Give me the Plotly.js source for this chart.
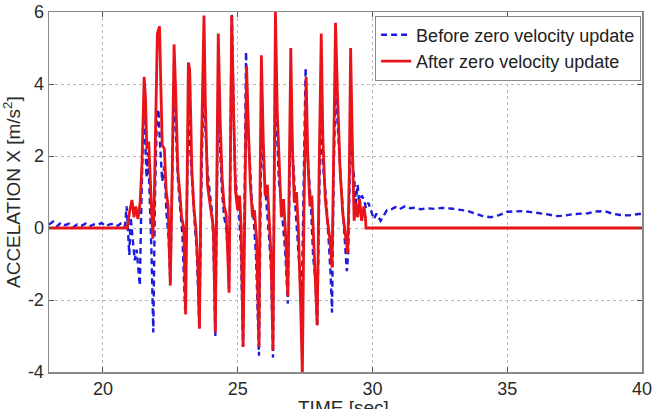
<!DOCTYPE html>
<html>
<head>
<meta charset="utf-8">
<script src="https://cdn.plot.ly/plotly-3.0.1.min.js"></script>
<style>
  html, body { margin: 0; padding: 0; background: #fff; }
  #chart { width: 657px; height: 409px; }
</style>
</head>
<body>
<div id="chart"></div>
<script>
// Acceleration (x axis) before zero velocity update: time [s]
const beforeTime = [
  18.0, 18.15, 18.3, 18.45, 18.6, 18.75, 18.9, 19.05, 19.2, 19.35, 19.5, 19.65, 19.8, 19.95,
  20.1, 20.25, 20.4, 20.55, 20.7, 20.82, 20.88, 20.93, 20.98, 21.03, 21.1, 21.18, 21.25, 21.32,
  21.37, 21.42, 21.5, 21.56, 21.62, 21.68, 21.74, 21.8, 21.87, 21.93, 22.0, 22.06, 22.12, 22.2,
  22.28, 22.36, 22.44, 22.5, 22.57, 22.63, 22.7, 22.78, 22.86, 22.95, 23.05, 23.12, 23.17, 23.24,
  23.32, 23.4, 23.48, 23.58, 23.66, 23.74, 23.8, 23.88, 23.96, 24.04, 24.1, 24.17, 24.23, 24.28,
  24.34, 24.42, 24.5, 24.58, 24.64, 24.68, 24.73, 24.78, 24.84, 24.9, 24.98, 25.06, 25.12, 25.2,
  25.26, 25.31, 25.38, 25.45, 25.52, 25.6, 25.68, 25.79, 25.84, 25.89, 25.95, 26.02, 26.1, 26.17,
  26.24, 26.31, 26.36, 26.4, 26.46, 26.53, 26.6, 26.68, 26.76, 26.86, 26.92, 26.97, 27.02, 27.08,
  27.15, 27.22, 27.3, 27.37, 27.45, 27.52, 27.58, 27.65, 27.72, 27.8, 27.88, 27.95, 28.02, 28.08,
  28.15, 28.22, 28.3, 28.38, 28.45, 28.5, 28.56, 28.63, 28.68, 28.74, 28.82, 28.9, 28.98, 29.05,
  29.1, 29.15, 29.2, 29.26, 29.32, 29.38, 29.45, 29.52, 29.6, 29.68, 29.76, 29.85, 29.95, 30.05,
  30.15, 30.3, 30.42, 30.54, 30.7, 30.85, 31.0, 31.2, 31.4, 31.6, 31.8, 32.0, 32.3, 32.6,
  32.9, 33.2, 33.5, 33.8, 34.1, 34.4, 34.7, 35.0, 35.3, 35.6, 35.9, 36.2, 36.5, 36.8,
  37.1, 37.4, 37.7, 38.0, 38.3, 38.6, 38.9, 39.2, 39.5, 39.8, 40.0
];
// Acceleration before zero velocity update [m/s^2]
const beforeAccel = [
  0.10, 0.18, 0.05, 0.15, 0.08, 0.12, 0.02, 0.10, 0.06, 0.12, 0.04, 0.10, 0.08, 0.14,
  0.05, 0.10, 0.12, 0.06, 0.15, 0.05, 0.60, -0.30, -0.75, 0.30, -0.20, -0.90, -0.60, -1.30,
  -1.60, 0.40, 3.10, 2.60, 1.40, 2.10, 0.80, -0.60, -2.90, 0.80, 3.00, 3.30, 2.30, 1.30,
  1.70, 0.40, -0.30, -1.50, 1.20, 4.00, 2.80, 1.40, 0.60, -0.20, -2.30, 0.80, 3.20, 2.20,
  1.00, 0.20, -0.60, -2.80, 1.50, 4.20, 2.80, 1.60, 1.00, 0.50, -0.40, -3.00, 1.00, 4.20,
  2.30, 1.00, 0.30, 0.00, -0.80, -1.70, 2.00, 6.10, 3.60, 1.50, 0.80, 0.30, -0.60, -3.30,
  1.00, 4.90, 2.80, 1.60, 0.80, 0.20, -0.80, -3.55, 1.00, 3.80, 1.80, 1.20, 0.40, -0.30,
  -1.20, -3.60, 1.40, 5.20, 2.60, 1.30, 0.80, 0.10, -0.60, -2.10, 1.00, 3.80, 2.20, 1.60,
  0.50, -0.20, -1.20, -2.30, 1.00, 4.45, 2.20, 1.50, 0.60, -0.80, -1.40, -2.75, 1.00, 3.50,
  1.90, 1.30, 0.60, -0.40, -1.30, -2.35, 1.50, 3.90, 3.20, 2.40, 1.40, 0.50, -0.40, -1.20,
  -0.70, 1.40, 3.20, 1.80, 1.40, 0.70, 1.20, 0.60, 0.90, 0.80, 0.55, 0.70, 0.45, 0.25,
  0.40, 0.20, 0.35, 0.50, 0.52, 0.58, 0.52, 0.60, 0.55, 0.57, 0.52, 0.55, 0.53, 0.56,
  0.54, 0.52, 0.48, 0.40, 0.33, 0.30, 0.36, 0.45, 0.45, 0.47, 0.44, 0.42, 0.38, 0.33,
  0.34, 0.38, 0.39, 0.41, 0.46, 0.47, 0.40, 0.36, 0.35, 0.38, 0.40
];

// Acceleration after zero velocity update: time [s]
const afterTime = [
  18.0, 20.9, 21.0, 21.08, 21.15, 21.22, 21.3, 21.38, 21.45, 21.53, 21.58, 21.63, 21.7, 21.78,
  21.85, 21.9, 21.95, 22.02, 22.1, 22.15, 22.2, 22.28, 22.35, 22.42, 22.5, 22.57, 22.64, 22.7,
  22.78, 22.85, 22.92, 23.0, 23.07, 23.12, 23.17, 23.22, 23.3, 23.38, 23.45, 23.52, 23.58, 23.65,
  23.75, 23.8, 23.88, 23.95, 24.03, 24.1, 24.17, 24.22, 24.28, 24.35, 24.42, 24.5, 24.57, 24.62,
  24.68, 24.73, 24.78, 24.85, 24.92, 25.0, 25.07, 25.13, 25.2, 25.27, 25.33, 25.4, 25.47, 25.55,
  25.62, 25.7, 25.79, 25.83, 25.88, 25.95, 26.02, 26.1, 26.17, 26.24, 26.31, 26.35, 26.4, 26.47,
  26.55, 26.62, 26.7, 26.78, 26.86, 26.92, 26.97, 27.03, 27.1, 27.18, 27.25, 27.33, 27.4, 27.46,
  27.54, 27.6, 27.68, 27.75, 27.82, 27.95, 28.02, 28.1, 28.16, 28.25, 28.33, 28.42, 28.5, 28.56,
  28.63, 28.7, 28.8, 28.9, 29.0, 29.08, 29.14, 29.19, 29.25, 29.32, 29.38, 29.45, 29.52, 29.6,
  29.68, 29.74, 29.76, 40.0
];
// Acceleration after zero velocity update [m/s^2]
const afterAccel = [
  0.0, 0.0, 0.5, 0.78, 0.3, 0.6, 0.25, 0.7, 1.8, 4.2, 3.6, 2.2, 2.4, 0.9,
  -0.3, 0.6, 3.0, 5.4, 5.6, 4.0, 2.3, 2.2, 1.0, 0.6, -1.6, 1.5, 5.1, 3.8,
  1.6, 1.0, 0.3, 0.0, -2.4, 1.0, 4.6, 4.4, 1.6, 0.5, 0.0, -1.0, -2.8, 2.0,
  5.9, 3.5, 1.2, 0.8, 0.4, 0.0, -2.9, 1.5, 5.4, 3.0, 1.4, 0.6, 0.4, -0.5,
  -1.8, 2.0, 5.9, 3.2, 1.0, 0.5, 0.9, 0.0, -3.3, 0.8, 4.5, 2.7, 1.2, 0.3,
  0.5, -0.3, -3.3, 1.2, 4.8, 2.4, 0.9, 1.2, 0.0, -0.8, -3.4, 2.0, 6.0, 3.2,
  1.4, 0.3, 0.8, -0.2, -1.9, 1.5, 5.0, 2.3, 0.7, 1.0, 0.0, -2.0, -4.1, 0.5,
  4.2, 2.0, 0.6, 0.9, -0.5, -2.7, 1.5, 5.4, 2.5, 0.8, 0.2, -0.3, -1.1, 2.0,
  5.7, 3.8, 1.6, 0.4, -0.3, -0.7, 1.5, 5.0, 2.5, 0.2, 0.7, 0.3, 0.8, 0.2,
  0.6, 0.3, 0.0, 0.0
];

const xTicks = [20, 25, 30, 35, 40];
const yTicks = [-4, -2, 0, 2, 4, 6];
const seriesNames = ['Before zero velocity update', 'After zero velocity update'];

const fontFamily = 'Liberation Sans, Arial, sans-serif';
const tickFont = { family: fontFamily, size: 18, color: '#2a2a2a' };

const traces = [
  {
    x: beforeTime, y: beforeAccel, type: 'scatter', mode: 'lines',
    name: seriesNames[0], legendgroup: 'a',
    line: { color: '#1c1cde', width: 2.4, dash: '6px,4px' }
  },
  {
    x: afterTime, y: afterAccel, type: 'scatter', mode: 'lines',
    name: seriesNames[1], legendgroup: 'b',
    line: { color: '#e8141a', width: 2.8 }
  }
];

const axisCommon = {
  showline: true, linecolor: '#8a8a8a', linewidth: 1.5, mirror: 'ticks',
  ticks: 'inside', ticklen: 5, tickcolor: '#555', tickwidth: 1,
  showgrid: true, gridcolor: '#b8b8b8', griddash: 'dot', gridwidth: 1,
  zeroline: false, tickfont: tickFont
};

const layout = {
  width: 657, height: 409,
  margin: { l: 49, r: 15, t: 12, b: 37 },
  paper_bgcolor: '#fff', plot_bgcolor: '#fff',
  showlegend: true,
  xaxis: Object.assign({}, axisCommon, {
    range: [18, 40], tickvals: xTicks, ticktext: xTicks.map(String)
  }),
  yaxis: Object.assign({}, axisCommon, {
    range: [-4, 6], tickvals: yTicks, ticktext: yTicks.map(String)
  }),
  legend: {
    x: 0.9985, xanchor: 'right', y: 0.99, yanchor: 'top',
    bgcolor: '#fff', bordercolor: '#8a8a8a', borderwidth: 1,
    font: { family: fontFamily, size: 18, color: '#222' },
    traceorder: 'grouped', tracegroupgap: 0
  },
  annotations: [
    {
      text: 'ACCELATION X [m/s<sup>2</sup>]', textangle: -90,
      xref: 'paper', yref: 'paper', x: 0, y: 0.5,
      xshift: -37, xanchor: 'center', yanchor: 'middle', showarrow: false,
      font: { family: fontFamily, size: 19, color: '#2a2a2a' }
    },
    {
      text: 'TIME [sec]',
      xref: 'paper', yref: 'paper', x: 0.497, y: 0,
      yshift: -35, xanchor: 'center', yanchor: 'middle', showarrow: false,
      font: { family: fontFamily, size: 19, color: '#2a2a2a' }
    }
  ]
};

Plotly.newPlot('chart', traces, layout, { displayModeBar: false, staticPlot: true });
</script>
</body>
</html>
